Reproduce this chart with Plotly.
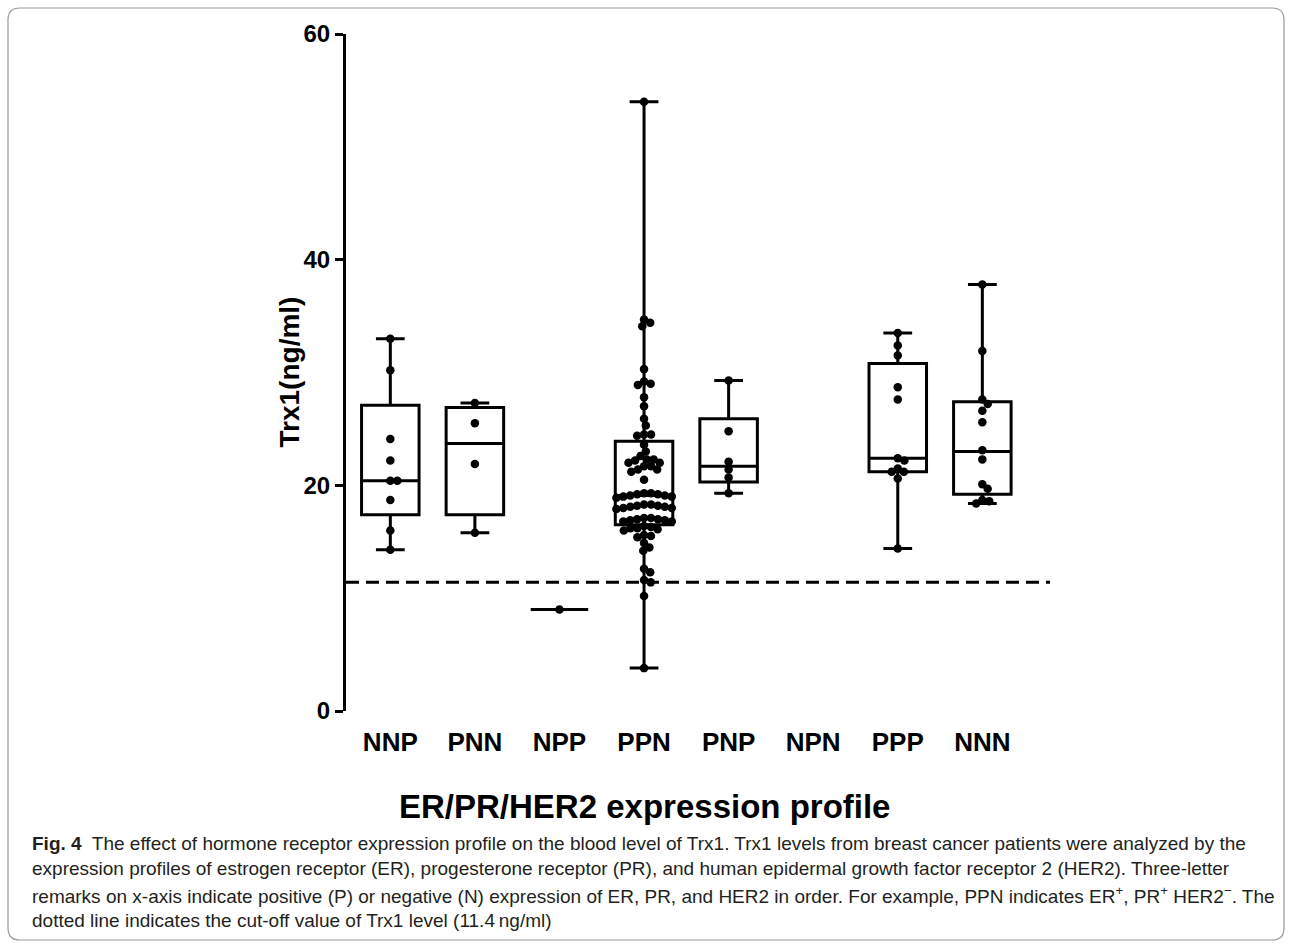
import plotly.graph_objects as go

# ---------------- data ----------------
categories = ["NNP", "PNN", "NPP", "PPN", "PNP", "NPN", "PPP", "NNN"]

nnp = [33.0, 30.2, 24.1, 22.2, 20.4, 20.4, 18.7, 16.0, 14.3]
pnn = [27.3, 25.5, 21.9, 15.8]
npp = [9.0]
ppn = [54.0, 34.7, 34.4, 34.1, 30.3, 29.2, 29.0, 28.9, 27.8, 27.0, 25.9, 25.3,
       24.5, 24.4, 24.5, 23.6, 23.0, 22.6,
       22.3, 22.2, 22.0, 21.7, 21.4, 21.2, 21.4, 21.7, 22.0, 22.3,
       20.5,
       19.3, 19.2, 19.1, 19.0, 18.9, 19.0, 19.1, 19.2, 19.3,
       18.3, 18.2, 18.1, 18.0, 17.9, 18.0, 18.1, 18.2, 18.3,
       17.1, 17.0, 16.9, 16.8, 16.8, 16.9, 17.0, 17.1,
       16.4, 16.2, 16.1, 16.0, 16.3, 16.2,
       15.6, 15.4, 15.5,
       14.9, 14.5, 14.2,
       12.6, 12.3, 11.6, 11.4, 10.2, 3.8]
pnp = [29.3, 24.8, 22.1, 21.4, 20.7, 19.3]
npn = []
ppp = [33.5, 32.4, 31.5, 28.7, 27.6, 22.4, 22.2, 21.5, 21.2, 21.2, 20.6, 14.4]
nnn = [37.8, 31.9, 27.6, 27.2, 26.6, 25.6, 23.1, 22.3, 20.1, 19.7, 18.7, 18.4, 18.6]

groups = [nnp, pnn, npp, ppn, pnp, npn, ppp, nnn]

q1_vals = [17.4, 17.4, 9.0, 16.5, 20.3, None, 21.2, 19.2]
median_vals = [20.4, 23.7, 9.0, 19.1, 21.7, None, 22.4, 23.0]
q3_vals = [27.1, 26.9, 9.0, 23.9, 25.9, None, 30.8, 27.4]

cutoff = 11.4
y_ticks = [0, 20, 40, 60]

# ---------------- geometry helpers ----------------
W, H = 1292, 945
L, R, T, B = 346, 1050, 34, 711
X_RANGE = [-0.524, 7.80]
Y_RANGE = [0, 60]
XPX = (R - L) / (X_RANGE[1] - X_RANGE[0])
YPX = (B - T) / (Y_RANGE[1] - Y_RANGE[0])


def xp(px):
    return (px - L) / (R - L)


def yp(py):
    return (B - py) / (B - T)


def swarm(vals, d=7.0):
    """simple beeswarm: horizontal offsets in pixels"""
    ys = [v * YPX for v in vals]
    order = sorted(range(len(vals)), key=lambda i: -vals[i])
    placed = []
    offs = [0.0] * len(vals)
    for i in order:
        y = ys[i]
        cands = [0.0]
        for (px_, py_) in placed:
            dy = abs(py_ - y)
            if dy < d:
                w = (d * d - dy * dy) ** 0.5
                cands += [px_ + w, px_ - w]
        cands.sort(key=lambda c: (round(abs(c), 4), c < 0))
        for c in cands:
            if all((c - a) ** 2 + (y - b) ** 2 >= d * d - 1e-6 for a, b in placed):
                offs[i] = c
                placed.append((c, y))
                break
    return offs


# ---------------- traces ----------------
box_x, bq1, bmed, bq3, blo, bhi = [], [], [], [], [], []
for i, g in enumerate(groups):
    if not g:
        continue
    box_x.append(i)
    bq1.append(q1_vals[i])
    bmed.append(median_vals[i])
    bq3.append(q3_vals[i])
    blo.append(min(g))
    bhi.append(max(g))

fig = go.Figure()
fig.add_trace(go.Box(
    x=box_x, q1=bq1, median=bmed, q3=bq3, lowerfence=blo, upperfence=bhi,
    width=0.68, whiskerwidth=0.5,
    line=dict(color="black", width=3), fillcolor="rgba(0,0,0,0)",
    boxpoints=False, showlegend=False, hoverinfo="skip",
))

pts_x, pts_y = [], []
for i, g in enumerate(groups):
    if not g:
        continue
    offs = swarm(g)
    for v, o in zip(g, offs):
        pts_x.append(i + o / XPX)
        pts_y.append(v)

fig.add_trace(go.Scatter(
    x=pts_x, y=pts_y, mode="markers",
    marker=dict(color="black", size=8.5, line=dict(width=0)),
    showlegend=False, hoverinfo="skip",
))

# ---------------- layout ----------------
xtick_font = dict(family="Liberation Sans, Arial, sans-serif", size=26, color="black", weight="bold")
ytick_font = dict(family="Liberation Sans, Arial, sans-serif", size=24, color="black", weight="bold")

fig.update_layout(
    width=W, height=H,
    margin=dict(l=L, r=W - R, t=T, b=H - B, pad=0),
    paper_bgcolor="white", plot_bgcolor="white",
    showlegend=False,
    xaxis=dict(
        range=X_RANGE, tickmode="array", tickvals=list(range(len(categories))),
        ticktext=categories, tickfont=xtick_font,
        showline=False, showgrid=False, zeroline=False,
        ticks="outside", ticklen=8, tickcolor="rgba(0,0,0,0)",
    ),
    yaxis=dict(
        range=Y_RANGE, tickmode="array", tickvals=y_ticks,
        tickfont=ytick_font, showline=True, linecolor="black", linewidth=3,
        ticks="outside", ticklen=8, tickwidth=3, tickcolor="black",
        showgrid=False, zeroline=False,
    ),
    shapes=[
        dict(type="line", xref="paper", yref="y", x0=0, x1=1, y0=cutoff, y1=cutoff,
             line=dict(color="black", width=3, dash="13px,7px")),
    ],
)

# outer rounded frame
r = 12
x0, x1, y0, y1 = 8, 1284, 8, 940
path = (f"M {xp(x0 + r)},{yp(y0)} L {xp(x1 - r)},{yp(y0)} "
        f"Q {xp(x1)},{yp(y0)} {xp(x1)},{yp(y0 + r)} "
        f"L {xp(x1)},{yp(y1 - r)} Q {xp(x1)},{yp(y1)} {xp(x1 - r)},{yp(y1)} "
        f"L {xp(x0 + r)},{yp(y1)} Q {xp(x0)},{yp(y1)} {xp(x0)},{yp(y1 - r)} "
        f"L {xp(x0)},{yp(y0 + r)} Q {xp(x0)},{yp(y0)} {xp(x0 + r)},{yp(y0)} Z")
fig.add_shape(type="path", xref="paper", yref="paper", path=path,
              line=dict(color="#9a9a9a", width=1.2), layer="below")

fig.add_annotation(text="Trx1(ng/ml)", xref="paper", yref="paper",
                   x=xp(289), y=0.5, textangle=-90, showarrow=False,
                   font=dict(family="Liberation Sans, Arial, sans-serif", size=28, color="black", weight="bold"),
                   xanchor="center", yanchor="middle")
fig.add_annotation(text="ER/PR/HER2 expression profile", xref="paper", yref="paper",
                   x=xp(644), y=yp(806), showarrow=False,
                   font=dict(family="Liberation Sans, Arial, sans-serif", size=33, color="black", weight="bold"),
                   xanchor="center", yanchor="middle")

cap_font = dict(family="Liberation Sans Narrow, Liberation Sans, Arial, sans-serif", size=19, color="#231f20")
caption_lines = [
    "<b>Fig. 4</b>  The effect of hormone receptor expression profile on the blood level of Trx1. Trx1 levels from breast cancer patients were analyzed by the",
    "expression profiles of estrogen receptor (ER), progesterone receptor (PR), and human epidermal growth factor receptor 2 (HER2). Three-letter",
    "remarks on x-axis indicate positive (P) or negative (N) expression of ER, PR, and HER2 in order. For example, PPN indicates ER<sup>+</sup>, PR<sup>+</sup> HER2<sup>\u2212</sup>. The",
    "dotted line indicates the cut-off value of Trx1 level (11.4\u2009ng/ml)",
]
caption_y = [843, 869, 895, 920]
for line, cy in zip(caption_lines, caption_y):
    fig.add_annotation(text=line, xref="paper", yref="paper", x=xp(30), y=yp(cy),
                       xanchor="left", yanchor="middle", showarrow=False, font=cap_font, align="left")

fig.write_html("out.html", config={"displayModeBar": False},
               post_script="document.body.style.margin='0px';document.body.style.overflow='hidden';")
